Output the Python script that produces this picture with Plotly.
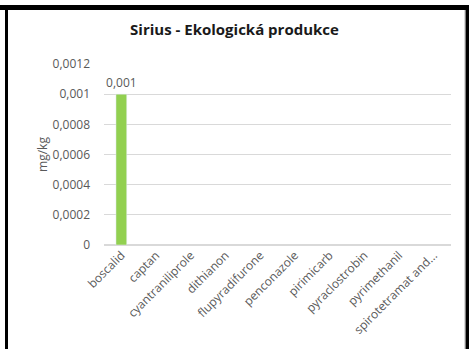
import plotly.graph_objects as go

categories = ["boscalid", "captan", "cyantraniliprole", "dithianon", "flupyradifurone",
              "penconazole", "pirimicarb", "pyraclostrobin", "pyrimethanil", "spirotetramat and..."]
values = [0.001, None, None, None, None, None, None, None, None, None]
labels = ["0,001", "", "", "", "", "", "", "", "", ""]

W, H = 469, 349
L, R, T, B = 104, 18, 64, 104
pw, ph = W - L - R, H - T - B


def px_x(x):
    return (x - L) / pw


def px_y(y):
    return (H - B - y) / ph


fig = go.Figure()
fig.add_trace(go.Bar(x=categories, y=values, text=labels, textposition="outside",
                     constraintext="none", textfont=dict(size=12, color="#595959"),
                     cliponaxis=False, marker_color="#92d050"))

# black frame pieces around the chart
frame = [
    (0, 5, 469, 10),
    (5, 5, 8, 349),
    (465.5, 5, 469, 349),
]
for x0, y0, x1, y1 in frame:
    fig.add_shape(type="rect", xref="paper", yref="paper",
                  x0=px_x(x0), x1=px_x(x1), y0=px_y(y1), y1=px_y(y0),
                  fillcolor="black", line_width=0, layer="above")
fig.add_shape(type="line", xref="paper", yref="paper",
              x0=px_x(464.5), x1=px_x(464.5), y0=px_y(349), y1=px_y(10),
              line=dict(color="#d9d9d9", width=1))

fig.update_layout(
    width=W, height=H,
    margin=dict(l=L, r=R, t=T, b=B),
    paper_bgcolor="white", plot_bgcolor="white",
    separators=", ",
    font=dict(family="Open Sans", size=12, color="#595959"),
    title=dict(text="<b>Sirius - Ekologická produkce</b>", x=0.5, xref="container", xanchor="center",
               y=1 - 30 / H, yanchor="middle",
               font=dict(size=15, color="#1a1a1a")),
    bargap=0.69,
    showlegend=False,
)
fig.update_yaxes(range=[0, 0.0012], dtick=0.0002, tickformat="~r", showgrid=True,
                 gridcolor="#d9d9d9", gridwidth=1, zeroline=True, zerolinecolor="#d9d9d9",
                 showline=False, ticks="", ticklabelstandoff=13,
                 title=dict(text="mg/kg", font=dict(size=12, color="#595959"), standoff=2),
                 tickfont=dict(size=12, color="#595959"))
fig.update_xaxes(tickangle=-45, showline=False, ticks="", showgrid=False,
                 tickfont=dict(size=12, color="#595959"))

fig.write_html("out.html", config={"displayModeBar": False},
               post_script="document.documentElement.style.margin='0';"
                           "document.body.style.margin='0';"
                           "document.body.style.padding='0';")
